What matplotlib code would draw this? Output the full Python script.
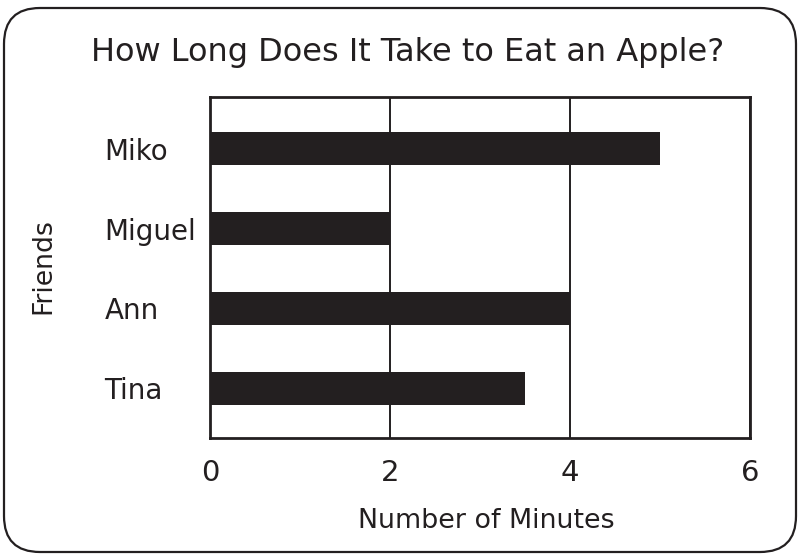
import matplotlib
matplotlib.use("Agg")
import matplotlib.pyplot as plt
from matplotlib.patches import FancyBboxPatch

friends = ["Tina", "Ann", "Miguel", "Miko"]
minutes = [3.5, 4.0, 2.0, 5.0]
xticks = [0, 2, 4, 6]
title = "How Long Does It Take to Eat an Apple?"
xlabel = "Number of Minutes"
ylabel = "Friends"

plt.rcParams['font.family'] = ['DejaVu Sans']
ink = "#231f20"

fig = plt.figure(figsize=(8.01, 5.55), dpi=100)
ax = fig.add_axes([210/801, (555-438)/555, 540/801, 341/555])

ypos = list(range(len(friends)))
ax.barh(ypos, minutes, height=0.41, color=ink, zorder=3)
ax.set_xlim(0, 6)
ax.set_ylim(-0.62, 3.645)
ax.set_xticks(xticks)
ax.set_xticklabels([str(t) for t in xticks], fontsize=21, color=ink)
ax.set_yticks(ypos)
ax.set_yticklabels(friends, fontsize=20, color=ink, ha='left')
ax.tick_params(axis='y', length=0, pad=76)
ax.tick_params(axis='x', length=0, pad=15)
ax.grid(axis='x', color=ink, linewidth=1.4, zorder=1)
for s in ax.spines.values():
    s.set_linewidth(2)
    s.set_color(ink)

fig.text(486/801, 1-521/555, xlabel, fontsize=19.4, color=ink, ha='center', va='center')
fig.text(43/801, 1-266/555, ylabel, fontsize=19.3, color=ink, ha='center', va='center', rotation=90)
fig.text(407.5/801, 1-52/555, title, fontsize=23, color=ink, ha='center', va='center')

frame = FancyBboxPatch((0.04, 0.03), 7.92, 5.44,
                       boxstyle="round,pad=0,rounding_size=0.36",
                       transform=fig.dpi_scale_trans, fill=False,
                       edgecolor=ink, linewidth=1.6)
fig.patches.append(frame)

fig.savefig("out.png", dpi=100)
